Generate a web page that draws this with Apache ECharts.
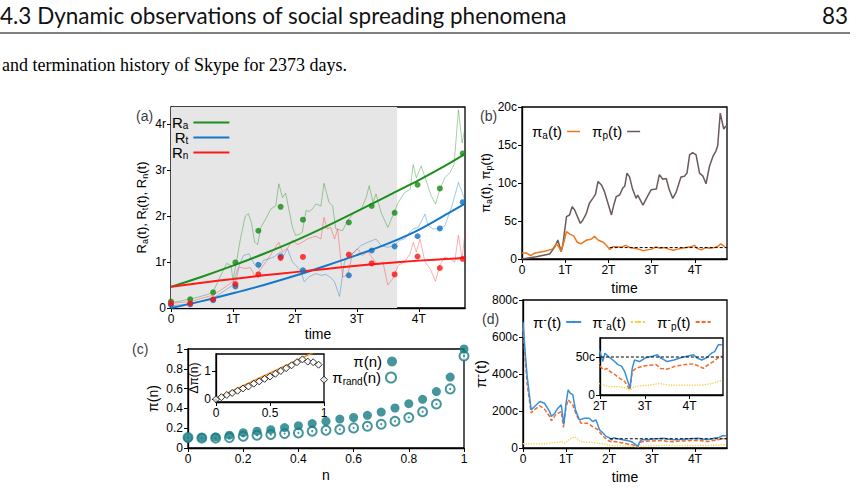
<!DOCTYPE html>
<html>
<head>
<meta charset="utf-8">
<script src="https://cdn.jsdelivr.net/npm/echarts@6/dist/echarts.min.js"></script>
<style>
  html, body { margin: 0; padding: 0; background: #fff; }
  #chart { width: 864px; height: 487px; }
</style>
</head>
<body>
<div id="chart"></div>
<script>
  // ---- data ----
  var tMax = 4.746            // 2373 days, T = 500 days
  var tTicks = [0, 1, 2, 3, 4]
  var tLabels = ['0', '1T', '2T', '3T', '4T']

  // (a) R_a, R_t, R_n
  var rTicks = [0, 1, 2, 3, 4]
  var rLabels = ['0', '1r', '2r', '3r', '4r']
  var shadeRange = [0, 3.65]
  var raLine = [[0,0.12],[0.15,0.15],[0.31,0.2],[0.45,0.24],[0.6,0.3],[0.68,0.35],[0.8,0.7],[0.9,0.97],[0.97,0.92],[1.0,0.6],[1.05,0.95],[1.12,1.5],[1.2,2.0],[1.25,2.05],[1.3,1.85],[1.35,1.43],[1.4,1.38],[1.45,1.75],[1.53,1.94],[1.61,2.15],[1.69,2.22],[1.74,2.7],[1.8,2.4],[1.85,2.5],[1.96,1.76],[2.01,1.58],[2.07,1.6],[2.12,1.65],[2.18,2.12],[2.23,2.1],[2.28,2.15],[2.34,2.26],[2.42,2.22],[2.47,2.71],[2.55,2.3],[2.61,2.22],[2.66,1.72],[2.77,1.68],[2.85,1.9],[2.96,2.08],[3.07,2.15],[3.15,2.4],[3.2,2.66],[3.26,2.3],[3.31,2.48],[3.39,2.08],[3.5,1.75],[3.58,2.01],[3.67,2.3],[3.77,2.51],[3.86,2.58],[3.91,3.12],[3.96,2.83],[4.04,3.09],[4.12,2.76],[4.2,2.44],[4.27,2.26],[4.34,2.58],[4.42,2.83],[4.5,2.94],[4.57,3.12],[4.64,4.31],[4.7,3.59],[4.746,3.92]]
  var rtLine = [[0,0.05],[0.31,0.09],[0.68,0.21],[0.88,0.39],[0.99,0.49],[1.07,0.82],[1.17,1.14],[1.26,1.18],[1.34,0.96],[1.42,0.86],[1.5,1.04],[1.58,1.07],[1.66,1.11],[1.77,1.22],[1.82,1.14],[1.88,1.29],[1.96,1.0],[2.04,0.89],[2.09,0.82],[2.15,0.57],[2.23,0.68],[2.34,0.75],[2.42,0.71],[2.5,0.73],[2.58,0.66],[2.64,0.57],[2.72,0.25],[2.8,1.0],[2.85,1.11],[2.96,1.22],[3.07,1.36],[3.18,1.43],[3.31,1.5],[3.39,1.36],[3.5,1.32],[3.61,1.36],[3.69,1.47],[3.77,1.5],[3.86,1.65],[3.91,1.72],[3.99,1.75],[4.1,2.04],[4.15,1.79],[4.23,1.72],[4.34,1.72],[4.42,1.79],[4.5,2.08],[4.55,2.29],[4.64,2.73],[4.72,2.44],[4.746,2.33]]
  var rnLine = [[0,0.1],[0.31,0.14],[0.68,0.28],[0.88,0.46],[0.99,0.57],[1.04,0.55],[1.1,0.89],[1.2,0.86],[1.28,0.88],[1.36,0.68],[1.45,0.85],[1.53,1.0],[1.63,1.2],[1.74,1.43],[1.8,1.22],[1.88,1.3],[1.96,1.47],[2.04,1.38],[2.12,1.43],[2.2,1.5],[2.28,1.54],[2.34,1.56],[2.42,1.5],[2.47,1.97],[2.52,1.72],[2.58,1.75],[2.64,1.5],[2.69,1.72],[2.77,0.68],[2.85,0.71],[2.93,1.18],[3.01,1.29],[3.09,1.14],[3.18,1.22],[3.26,1.07],[3.34,0.93],[3.42,1.0],[3.5,0.5],[3.58,0.64],[3.67,0.93],[3.77,1.0],[3.86,1.18],[3.91,1.43],[3.96,1.22],[4.02,1.5],[4.1,1.0],[4.18,0.86],[4.27,0.58],[4.34,0.93],[4.42,1.11],[4.5,1.07],[4.58,1.0],[4.64,1.58],[4.7,1.07],[4.746,1.65]]
  var raFit = [[0,0.46],[0.5,0.68],[1,0.92],[1.5,1.18],[2,1.46],[2.5,1.77],[3,2.1],[3.5,2.44],[4,2.78],[4.5,3.15],[4.746,3.35]]
  var rtFit = [[0,0],[0.5,0.15],[1,0.32],[1.5,0.5],[2,0.7],[2.5,0.92],[3,1.15],[3.5,1.4],[4,1.7],[4.5,2.08],[4.746,2.27]]
  var rnFit = [[0,0.46],[0.5,0.55],[1,0.63],[1.5,0.71],[2,0.78],[2.5,0.85],[3,0.92],[3.5,0.98],[4,1.03],[4.5,1.07],[4.746,1.09]]
  var dotT = [0, 0.31, 0.68, 1.04, 1.41, 1.77, 2.13, 2.87, 3.24, 3.61, 3.98, 4.34, 4.71]
  var raDots = [0.14, 0.19, 0.34, 0.99, 1.68, 2.2, 1.92, 1.86, 2.22, 2.07, 2.68, 2.6, 3.36]
  var rtDots = [0.065, 0.08, 0.17, 0.47, 0.94, 1.12, 0.82, 0.71, 1.25, 1.34, 1.56, 1.73, 2.3]
  var rnDots = [0.1, 0.1, 0.19, 0.52, 0.73, 1.09, 1.11, 1.16, 0.97, 0.73, 1.12, 0.87, 1.07]

  // (b) pi_a, pi_p
  var piTicks = [0, 5, 10, 15, 20]
  var piLabels = ['0', '5c', '10c', '15c', '20c']
  var piP = [[0,0],[0.33,0.3],[0.64,0.66],[0.76,1.6],[0.83,2.5],[0.88,1.5],[0.91,0.96],[0.95,2.06],[1.03,5.57],[1.1,5.79],[1.16,6.88],[1.22,6.45],[1.3,5.35],[1.35,4.69],[1.41,5.13],[1.49,6.01],[1.56,7.33],[1.64,7.98],[1.7,8.5],[1.76,10.2],[1.84,9.74],[1.91,8.86],[1.99,7.33],[2.07,5.8],[2.12,7.0],[2.18,8.2],[2.26,8.42],[2.33,9.3],[2.38,9.6],[2.43,11.3],[2.49,10.8],[2.56,9.2],[2.64,7.98],[2.68,8.4],[2.8,7.1],[2.92,8.4],[2.99,9.1],[3.11,9.2],[3.18,11.1],[3.26,10.5],[3.34,10.6],[3.41,9.1],[3.49,7.98],[3.57,8.8],[3.68,10.8],[3.76,10.9],[3.82,11.3],[3.88,13.7],[3.95,14.0],[4.03,13.7],[4.11,11.3],[4.19,10.9],[4.26,9.9],[4.34,12.2],[4.42,13.5],[4.49,14.2],[4.53,14.9],[4.59,19.2],[4.67,17.1],[4.72,17.5]]
  var piA = [[0,0.8],[0.1,0.8],[0.2,0.45],[0.3,0.8],[0.5,1.0],[0.7,1.3],[0.8,2.0],[0.86,1.5],[0.9,1.0],[0.95,1.8],[1.03,3.6],[1.1,3.3],[1.2,3.0],[1.28,2.2],[1.36,2.0],[1.5,2.5],[1.6,2.6],[1.68,3.0],[1.76,2.5],[1.88,2.2],[1.97,1.7],[2.03,1.25],[2.1,1.6],[2.2,1.6],[2.3,1.55],[2.4,1.8],[2.5,1.5],[2.6,1.4],[2.7,1.3],[2.8,1.1],[2.9,1.2],[3.0,1.3],[3.1,1.6],[3.2,1.4],[3.3,1.5],[3.4,1.3],[3.5,1.15],[3.6,1.3],[3.7,1.4],[3.8,1.5],[3.9,1.6],[4.0,1.8],[4.05,1.4],[4.15,1.2],[4.25,1.5],[4.35,1.4],[4.45,1.5],[4.55,1.7],[4.6,2.0],[4.7,1.6]]
  var piALevel = [[2.03,1.5],[4.746,1.5]]

  // (c) pi(n), pi_rand(n), inset delta pi(n)
  var nTicks = [0, 0.2, 0.4, 0.6, 0.8, 1]
  var nLabels = ['0', '0.2', '0.4', '0.6', '0.8', '1']
  var nVals = [0,0.05,0.1,0.15,0.2,0.25,0.3,0.35,0.4,0.45,0.5,0.55,0.6,0.65,0.7,0.75,0.8,0.85,0.9,0.95,1]
  var piN = [0.1,0.105,0.11,0.13,0.155,0.17,0.185,0.206,0.225,0.247,0.271,0.292,0.308,0.33,0.363,0.404,0.448,0.492,0.57,0.716,1.0]
  var piRand = [0.105,0.1,0.1,0.105,0.119,0.129,0.136,0.146,0.152,0.17,0.18,0.187,0.203,0.22,0.24,0.27,0.308,0.366,0.444,0.597,0.93]
  var dPi = [0,0.07,0.15,0.22,0.3,0.38,0.45,0.55,0.63,0.72,0.8,0.9,1.0,1.1,1.2,1.31,1.41,1.33,1.31,1.22,0.69]
  var dPiFit = [[0,0.02],[0.9,1.65]]
  var insetXTicks = [0, 0.5, 1]
  var insetXLabels = ['0', '0.5', '1']
  var insetYTicks = [0, 1]
  var insetYLabels = ['0', '1']

  // (d) pi^-(t), pi^-_a(t), pi^-_p(t)
  var pmTicks = [0, 200, 400, 600, 800]
  var pmLabels = ['0', '200c', '400c', '600c', '800c']
  var pmInsetTicks = [0, 50]
  var pmInsetLabels = ['0', '50c']
  var pmInsetTTicks = [2, 3, 4]
  var pmInsetTLabels = ['2T', '3T', '4T']
  var piMinus = [[0,682],[0.05,520],[0.1,380],[0.19,206],[0.27,224],[0.39,251],[0.5,242],[0.62,197],[0.66,170],[0.74,188],[0.81,215],[0.89,233],[0.95,126],[1.0,240],[1.05,314],[1.1,296],[1.16,287],[1.22,206],[1.31,152],[1.43,161],[1.54,161],[1.62,143],[1.7,152],[1.78,99],[1.86,81],[1.93,63],[2.0,57],[2.06,44],[2.11,55],[2.18,51],[2.29,46],[2.4,40],[2.48,38],[2.55,31],[2.62,18],[2.67,9],[2.72,35],[2.77,46],[2.88,44],[3.02,49],[3.17,51],[3.28,53],[3.35,49],[3.5,44],[3.65,46],[3.8,49],[3.94,51],[4.09,53],[4.16,49],[4.27,46],[4.38,49],[4.49,55],[4.56,57],[4.64,66],[4.72,66]]
  var piMinusP = [[0,650],[0.05,480],[0.1,340],[0.19,190],[0.27,208],[0.39,228],[0.5,210],[0.62,170],[0.66,147],[0.77,183],[0.89,197],[0.94,112],[1.0,220],[1.05,260],[1.16,233],[1.24,180],[1.35,134],[1.5,134],[1.62,116],[1.74,99],[1.86,63],[2.0,38],[2.08,33],[2.15,35],[2.22,31],[2.33,27],[2.44,22],[2.55,18],[2.62,11],[2.67,7],[2.72,31],[2.8,35],[2.95,38],[3.1,39],[3.25,40],[3.35,35],[3.5,34],[3.68,38],[3.9,40],[4.09,41],[4.2,38],[4.31,35],[4.42,40],[4.53,44],[4.64,49],[4.72,51]]
  var piMinusA = [[0,23],[0.3,22],[0.51,23],[0.77,30],[0.89,36],[0.97,26],[1.08,47],[1.2,61],[1.28,47],[1.39,30],[1.54,32],[1.7,27],[1.86,23],[2.0,14],[2.2,11],[2.44,11],[2.58,9],[2.67,6],[2.77,11],[3.1,13],[3.32,15],[3.54,13],[3.98,13],[4.27,13],[4.49,15],[4.64,18],[4.72,19]]
  var piMinusLevel = [[2.02,50],[4.746,50]]

  // ---- styling ----
  var FONT = 'Liberation Sans'
  var GREEN = '#1e8f1e', BLUE = '#1677c7', RED = '#ff1a1a'
  var ORANGE = '#f07818', GREY = '#6b5a5a'
  var TEAL = '#177b85'
  var D_BLUE = '#3a8fd8', D_ORANGE = '#f26a2a', D_YELLOW = '#f5cf3a'

  var rich = {
    m: {fontFamily: FONT, fontSize: 15, lineHeight: 18, color: '#000'},
    s: {fontFamily: FONT, fontSize: 10, lineHeight: 9, verticalAlign: 'bottom', color: '#000'},
    u: {fontFamily: FONT, fontSize: 11, lineHeight: 9, verticalAlign: 'top', color: '#000'}
  }
  // tighter lines for the stacked legend of (a)
  var richA = {
    m: {fontFamily: FONT, fontSize: 15, lineHeight: 15, color: '#000'},
    s: {fontFamily: FONT, fontSize: 10, lineHeight: 7, verticalAlign: 'bottom', color: '#000'}
  }
  var richName = {
    m: {fontFamily: FONT, fontSize: 13, lineHeight: 16, color: '#000'},
    s: {fontFamily: FONT, fontSize: 9, lineHeight: 8, verticalAlign: 'bottom', color: '#000'},
    u: {fontFamily: FONT, fontSize: 10, lineHeight: 8, verticalAlign: 'top', color: '#000'}
  }

  var legendNames = {
    'Ra': '{m|R}{s|a}', 'Rt': '{m|R}{s|t}', 'Rn': '{m|R}{s|n}',
    'pia': '{m|π}{s|a}{m|(t)}', 'pip': '{m|π}{s|p}{m|(t)}',
    'pin': '{m|π(n)}', 'pirand': '{m|π}{s|rand}{m|(n)}',
    'pim': '{m|π}{u|-}{m|(t)}', 'pima': '{m|π}{u|-}{s|a}{m|(t)}', 'pimp': '{m|π}{u|-}{s|p}{m|(t)}'
  }

  function pickLabel(ticks, labels) {
    return function (v) {
      var i = ticks.indexOf(Math.round(v * 1000) / 1000)
      return i < 0 ? '' : labels[i]
    }
  }

  function valAxis(grid, min, max, ticks, labels, extra) {
    var ax = {
      gridIndex: grid,
      type: 'value',
      min: min,
      max: max,
      axisLine: {show: true, onZero: false, lineStyle: {color: '#000', width: 1.3}},
      axisTick: {show: true, customValues: ticks, length: 4, lineStyle: {color: '#000', width: 1}},
      axisLabel: {customValues: ticks, formatter: pickLabel(ticks, labels), color: '#000', fontFamily: FONT, fontSize: 12, margin: 5},
      splitLine: {show: false}
    }
    return Object.assign(ax, extra || {})
  }

  function zip(xs, ys) {
    return xs.map(function (x, i) { return [x, ys[i]] })
  }

  function legendText(n) {
    return legendNames[n]
  }

  var nameStyle = {fontFamily: FONT, fontSize: 13, color: '#000', rich: richName}
  var timeStyle = {fontFamily: FONT, fontSize: 14, color: '#000'}

  var frame = {show: true, borderColor: '#000', borderWidth: 1.3, backgroundColor: 'transparent'}

  var chart = echarts.init(document.getElementById('chart'), null, {renderer: 'svg'})

  var option = {
    animation: false,
    backgroundColor: '#fff',
    textStyle: {fontFamily: FONT},
    title: [
      {text: '4.3 Dynamic observations of social spreading phenomena', left: 0, top: 3, padding: 0,
        textStyle: {fontFamily: 'Lato', fontSize: 22.5, lineHeight: 24, fontWeight: 'normal', color: '#111'}},
      {text: '83', right: 16, top: 3, padding: 0,
        textStyle: {fontFamily: 'Lato', fontSize: 22.5, lineHeight: 24, fontWeight: 'normal', color: '#111'}},
      {text: 'and termination history of Skype for 2373 days.', left: 2, top: 56, padding: 0,
        textStyle: {fontFamily: 'Liberation Serif', fontSize: 18, fontWeight: 'normal', color: '#000'}},
      {text: '(a)', left: 136, top: 109, padding: 0, textStyle: {fontFamily: FONT, fontSize: 14, fontWeight: 'normal'}},
      {text: '(b)', left: 480, top: 109, padding: 0, textStyle: {fontFamily: FONT, fontSize: 14, fontWeight: 'normal'}},
      {text: '(c)', left: 132, top: 342, padding: 0, textStyle: {fontFamily: FONT, fontSize: 14, fontWeight: 'normal'}},
      {text: '(d)', left: 482, top: 312, padding: 0, textStyle: {fontFamily: FONT, fontSize: 14, fontWeight: 'normal'}}
    ],
    graphic: [
      {type: 'line', shape: {x1: 0, y1: 33, x2: 850, y2: 33}, style: {stroke: '#000', lineWidth: 1}}
    ],
    legend: [
      {data: ['Ra', 'Rt', 'Rn'], left: 172, top: 115, orient: 'vertical', align: 'right', itemGap: 0, padding: 0,
        icon: 'rect', itemWidth: 36, itemHeight: 2, formatter: legendText, textStyle: {rich: richA}},
      {data: ['pia', 'pip'], left: 527, top: 119, orient: 'horizontal', align: 'right', itemGap: 12,
        icon: 'rect', itemWidth: 13, itemHeight: 1.5, formatter: legendText, textStyle: {rich: rich}},
      {data: ['pin'], right: 462, top: 349, align: 'right', itemWidth: 10, itemHeight: 10,
        formatter: legendText, textStyle: {rich: rich}},
      {data: ['pirand'], right: 462, top: 365, align: 'right', itemWidth: 10, itemHeight: 10,
        formatter: legendText, textStyle: {rich: rich}},
      {data: ['pim', 'pima', 'pimp'], left: 528, top: 308, orient: 'horizontal', align: 'right', itemGap: 10,
        itemWidth: 15, itemHeight: 3, formatter: legendText, textStyle: {rich: rich}}
    ],
    grid: [
      Object.assign({left: 171, top: 107, width: 294, height: 201}, frame),
      Object.assign({left: 522, top: 107, width: 205, height: 152}, frame),
      Object.assign({left: 188, top: 349, width: 276, height: 99}, frame),
      Object.assign({left: 216, top: 354, width: 108, height: 48}, frame),
      Object.assign({left: 523, top: 300, width: 204, height: 148}, frame),
      Object.assign({left: 600, top: 338, width: 123, height: 57}, frame)
    ],
    xAxis: [
      valAxis(0, 0, tMax, tTicks, tLabels, {name: 'time', nameLocation: 'middle', nameGap: 19, nameTextStyle: timeStyle}),
      valAxis(1, 0, tMax, tTicks, tLabels, {name: 'time', nameLocation: 'middle', nameGap: 22, nameTextStyle: timeStyle}),
      valAxis(2, 0, 1, nTicks, nLabels, {name: 'n', nameLocation: 'middle', nameGap: 20, nameTextStyle: timeStyle}),
      valAxis(3, 0, 1, insetXTicks, insetXLabels),
      valAxis(4, 0, tMax, tTicks, tLabels, {name: 'time', nameLocation: 'middle', nameGap: 22, nameTextStyle: timeStyle}),
      valAxis(5, 2, tMax, pmInsetTTicks, pmInsetTLabels)
    ],
    yAxis: [
      valAxis(0, 0, 4.37, rTicks, rLabels, {name: '{m|R}{s|a}{m|(t), R}{s|t}{m|(t), R}{s|n}{m|(t)}', nameLocation: 'middle', nameGap: 22, nameTextStyle: nameStyle}),
      valAxis(1, 0, 20, piTicks, piLabels, {name: '{m|π}{s|a}{m|(t), π}{s|p}{m|(t)}', nameLocation: 'middle', nameGap: 28, nameTextStyle: nameStyle}),
      valAxis(2, 0, 1, nTicks, nLabels, {name: 'π(n)', nameLocation: 'middle', nameGap: 28, nameTextStyle: {fontFamily: FONT, fontSize: 14, color: '#000'}}),
      valAxis(3, -0.1, 1.6, insetYTicks, insetYLabels, {name: 'Δπ(n)', nameLocation: 'middle', nameGap: 10, nameTextStyle: {fontFamily: FONT, fontSize: 12, color: '#000'}}),
      valAxis(4, 0, 800, pmTicks, pmLabels, {name: '{m|π}{u|-}{m|(t)}', nameLocation: 'middle', nameGap: 34, nameTextStyle: {fontFamily: FONT, fontSize: 14, color: '#000', rich: rich}}),
      valAxis(5, 0, 75, pmInsetTicks, pmInsetLabels)
    ],
    series: [
      // (a)
      {type: 'line', name: 'shade', xAxisIndex: 0, yAxisIndex: 0, data: [], silent: true, z: 0,
        markArea: {silent: true, itemStyle: {color: '#e6e6e6'}, data: [[{xAxis: shadeRange[0]}, {xAxis: shadeRange[1]}]]}},
      {type: 'line', name: 'Ra(t)', xAxisIndex: 0, yAxisIndex: 0, data: raLine, symbol: 'none', z: 2,
        lineStyle: {color: GREEN, width: 1, opacity: 0.4}},
      {type: 'line', name: 'Rt(t)', xAxisIndex: 0, yAxisIndex: 0, data: rtLine, symbol: 'none', z: 2,
        lineStyle: {color: BLUE, width: 1, opacity: 0.4}},
      {type: 'line', name: 'Rn(t)', xAxisIndex: 0, yAxisIndex: 0, data: rnLine, symbol: 'none', z: 2,
        lineStyle: {color: RED, width: 1, opacity: 0.35}},
      {type: 'line', name: 'Ra', xAxisIndex: 0, yAxisIndex: 0, data: raFit, symbol: 'none', smooth: 0.3, z: 4,
        color: GREEN, lineStyle: {color: GREEN, width: 2}},
      {type: 'line', name: 'Rt', xAxisIndex: 0, yAxisIndex: 0, data: rtFit, symbol: 'none', smooth: 0.3, z: 4,
        color: BLUE, lineStyle: {color: BLUE, width: 2}},
      {type: 'line', name: 'Rn', xAxisIndex: 0, yAxisIndex: 0, data: rnFit, symbol: 'none', smooth: 0.3, z: 4,
        color: RED, lineStyle: {color: RED, width: 2}},
      {type: 'scatter', name: 'Ra dots', xAxisIndex: 0, yAxisIndex: 0, data: zip(dotT, raDots), symbolSize: 6, z: 5,
        itemStyle: {color: '#138a13'}},
      {type: 'scatter', name: 'Rt dots', xAxisIndex: 0, yAxisIndex: 0, data: zip(dotT, rtDots), symbolSize: 6, z: 5,
        itemStyle: {color: '#0f6fc0'}},
      {type: 'scatter', name: 'Rn dots', xAxisIndex: 0, yAxisIndex: 0, data: zip(dotT, rnDots), symbolSize: 6, z: 5,
        itemStyle: {color: '#ff1010'}},

      // (b)
      {type: 'line', name: 'pip', xAxisIndex: 1, yAxisIndex: 1, data: piP, symbol: 'none', color: GREY,
        lineStyle: {color: GREY, width: 1.5}},
      {type: 'line', name: 'pia', xAxisIndex: 1, yAxisIndex: 1, data: piA, symbol: 'none', color: ORANGE,
        lineStyle: {color: ORANGE, width: 1.5}},
      {type: 'line', name: 'pia level', xAxisIndex: 1, yAxisIndex: 1, data: piALevel, symbol: 'none',
        lineStyle: {color: '#000', width: 1, type: [3, 2]}},

      // (c)
      {type: 'scatter', name: 'pin', xAxisIndex: 2, yAxisIndex: 2, data: zip(nVals, piN), symbol: 'circle', symbolSize: 9,
        color: TEAL, itemStyle: {color: TEAL}, z: 3},
      {type: 'scatter', name: 'pirand', xAxisIndex: 2, yAxisIndex: 2, data: zip(nVals, piRand), symbol: 'emptyCircle', symbolSize: 9,
        color: TEAL, itemStyle: {color: TEAL, borderColor: TEAL, borderWidth: 1}, z: 2},
      {type: 'scatter', name: 'pirand centre', xAxisIndex: 2, yAxisIndex: 2, data: zip(nVals, piRand), symbol: 'circle', symbolSize: 2,
        itemStyle: {color: TEAL}, z: 2},
      {type: 'line', name: 'dpi fit', xAxisIndex: 3, yAxisIndex: 3, data: dPiFit, symbol: 'none',
        lineStyle: {color: '#f08a1c', width: 1.5}, z: 2},
      {type: 'scatter', name: 'dpi', xAxisIndex: 3, yAxisIndex: 3, data: zip(nVals, dPi), symbol: 'diamond', symbolSize: 7,
        itemStyle: {color: '#fff', borderColor: '#000', borderWidth: 1}, z: 3},

      // (d)
      {type: 'line', name: 'pima', xAxisIndex: 4, yAxisIndex: 4, data: piMinusA, symbol: 'none', color: D_YELLOW,
        lineStyle: {color: D_YELLOW, width: 1.3, type: 'dotted'}},
      {type: 'line', name: 'pimp', xAxisIndex: 4, yAxisIndex: 4, data: piMinusP, symbol: 'none', color: D_ORANGE,
        lineStyle: {color: D_ORANGE, width: 1.5, type: [4, 2]}},
      {type: 'line', name: 'pim', xAxisIndex: 4, yAxisIndex: 4, data: piMinus, symbol: 'none', color: D_BLUE,
        lineStyle: {color: D_BLUE, width: 1.5}},
      {type: 'line', name: 'pim level', xAxisIndex: 4, yAxisIndex: 4, data: piMinusLevel, symbol: 'none',
        lineStyle: {color: '#000', width: 1, type: [3, 2]}},
      // (d) inset, same data zoomed
      {type: 'line', name: 'pima inset', xAxisIndex: 5, yAxisIndex: 5, data: piMinusA, symbol: 'none',
        lineStyle: {color: D_YELLOW, width: 1.3, type: 'dotted'}},
      {type: 'line', name: 'pimp inset', xAxisIndex: 5, yAxisIndex: 5, data: piMinusP, symbol: 'none',
        lineStyle: {color: D_ORANGE, width: 1.5, type: [4, 2]}},
      {type: 'line', name: 'pim inset', xAxisIndex: 5, yAxisIndex: 5, data: piMinus, symbol: 'none',
        lineStyle: {color: D_BLUE, width: 1.5}},
      {type: 'line', name: 'pim level inset', xAxisIndex: 5, yAxisIndex: 5, data: piMinusLevel, symbol: 'none',
        lineStyle: {color: '#000', width: 1, type: [3, 2]}}
    ]
  }

  chart.setOption(option)
</script>
</body>
</html>
